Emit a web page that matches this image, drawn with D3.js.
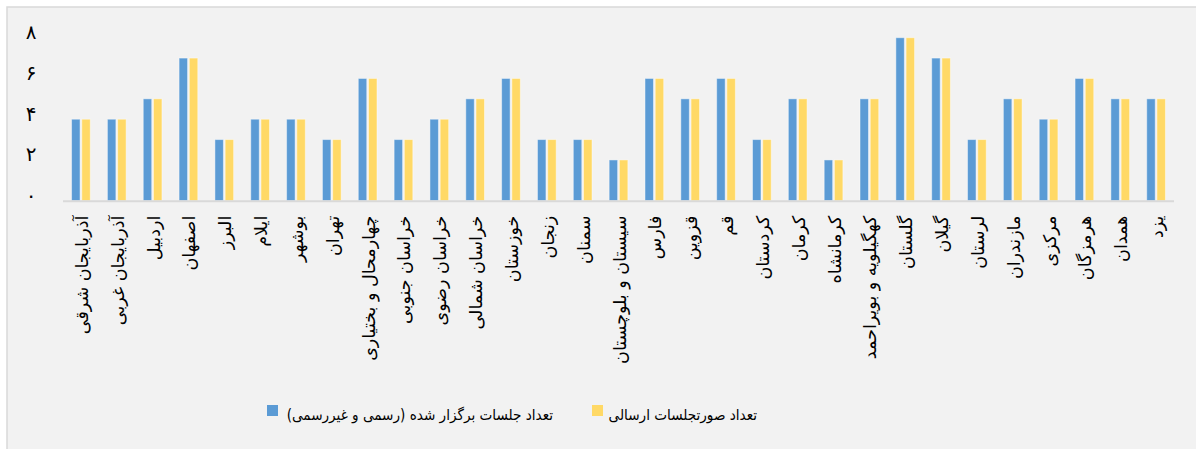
<!DOCTYPE html>
<html>
<head>
<meta charset="utf-8">
<script src="https://cdn.jsdelivr.net/npm/d3@7/dist/d3.min.js"></script>
<style>
  html, body { margin: 0; padding: 0; background: #ffffff; }
  svg { display: block; }
  text { font-family: "DejaVu Sans", "Noto Sans", sans-serif; fill: #000; }
</style>
</head>
<body>
<svg id="chart" width="1196" height="449"></svg>
<script>
const provinces = [
  "آذربایجان شرقی", "آذربایجان غربی", "اردبیل", "اصفهان", "البرز", "ایلام", "بوشهر", "تهران",
  "چهارمحال و بختیاری", "خراسان جنوبی", "خراسان رضوی", "خراسان شمالی", "خوزستان", "زنجان",
  "سمنان", "سیستان و بلوچستان", "فارس", "قزوین", "قم", "کردستان", "کرمان", "کرمانشاه",
  "کهگیلویه و بویراحمد", "گلستان", "گیلان", "لرستان", "مازندران", "مرکزی", "هرمزگان", "همدان", "یزد"
];
const meetingsHeld = [4, 4, 5, 7, 3, 4, 4, 3, 6, 3, 4, 5, 6, 3, 3, 2, 6, 5, 6, 3, 5, 2, 5, 8, 7, 3, 5, 4, 6, 5, 5];
const minutesSent  = [4, 4, 5, 7, 3, 4, 4, 3, 6, 3, 4, 5, 6, 3, 3, 2, 6, 5, 6, 3, 5, 2, 5, 8, 7, 3, 5, 4, 6, 5, 5];
const seriesNames = ["تعداد جلسات برگزار شده (رسمی و غیررسمی)", "تعداد صورتجلسات ارسالی"];
const seriesColors = ["#5B9BD5", "#FFD966"];
const yTicks = [0, 2, 4, 6, 8];
const yTickLabels = ["۰", "۲", "۴", "۶", "۸"];

const svg = d3.select("#chart");
const W = 1196, H = 449;

// chart background & border
svg.append("rect").attr("x", 7).attr("y", 7).attr("width", W + 10).attr("height", H + 10)
  .attr("fill", "#F2F2F2").attr("stroke", "#D9D9D9").attr("stroke-width", 1.5);

const plot = { left: 63, right: 1174, top: 37.7, bottom: 200.7 };

const x = d3.scaleBand().domain(d3.range(provinces.length))
  .range([plot.left, plot.right]).paddingInner(0.478).paddingOuter(0.239);
const xSub = d3.scaleBand().domain([0, 1]).range([0, x.bandwidth()]).paddingInner(0.17);
const y = d3.scaleLinear().domain([0, 8]).range([plot.bottom, plot.top]);

const series = [meetingsHeld, minutesSent];

// bars
series.forEach((vals, si) => {
  svg.append("g").selectAll("rect").data(vals).join("rect")
    .attr("x", (d, i) => x(i) + xSub(si))
    .attr("y", d => y(d))
    .attr("width", xSub.bandwidth())
    .attr("height", d => y(0) - y(d))
    .attr("fill", seriesColors[si])
    .attr("stroke", "rgba(255,255,255,0.45)")
    .attr("stroke-width", 1);
});

// x axis line
svg.append("line").attr("x1", plot.left).attr("x2", plot.right)
  .attr("y1", y(0) + 0.5).attr("y2", y(0) + 0.5)
  .attr("stroke", "#D9D9D9").attr("stroke-width", 2);

// y labels
svg.append("g").selectAll("text").data(yTicks).join("text")
  .attr("x", 31).attr("y", d => y(d) - 4)
  .attr("text-anchor", "middle").attr("dominant-baseline", "middle")
  .style("font-size", "20px")
  .text((d, i) => yTickLabels[i]);

// x labels (rotated)
svg.append("g").selectAll("text").data(provinces).join("text")
  .attr("transform", (d, i) => `translate(${x(i) + x.bandwidth() / 2 + 1},${y(0) + 15}) rotate(-90)`)
  .attr("text-anchor", "end").attr("dominant-baseline", "central")
  .style("font-size", "17.5px")
  .text(d => d);

// legend
const legend = [
  { sq: 267, tx: 553, name: seriesNames[0], color: seriesColors[0] },
  { sq: 592, tx: 757, name: seriesNames[1], color: seriesColors[1] }
];
const lg = svg.append("g");
lg.selectAll("rect").data(legend).join("rect")
  .attr("x", d => d.sq).attr("y", 405).attr("width", 11).attr("height", 11)
  .attr("fill", d => d.color);
lg.selectAll("text").data(legend).join("text")
  .attr("x", d => d.tx).attr("y", 415)
  .attr("text-anchor", "end").attr("dominant-baseline", "central")
  .style("font-family", "'DejaVu Sans Condensed', 'DejaVu Sans', sans-serif")
  .style("font-size", "15.1px")
  .text(d => d.name);
</script>
</body>
</html>
